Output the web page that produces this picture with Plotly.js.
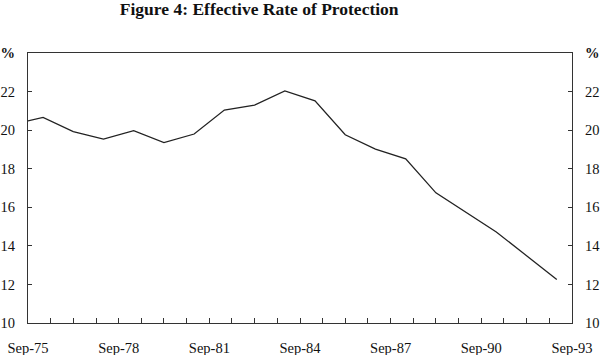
<!DOCTYPE html>
<html>
<head>
<meta charset="utf-8">
<script src="https://cdn.plot.ly/plotly-3.0.1.min.js"></script>
<style>html,body{margin:0;padding:0;background:#fff;}#chart{width:600px;height:355px;}</style>
</head>
<body>
<div id="chart"></div>
<script>
// Observation dates (March of each year) and effective rate of protection (%)
var dates = ["1975-03-01","1976-03-01","1977-03-01","1978-03-01","1979-03-01","1980-03-01",
             "1981-03-01","1982-03-01","1983-03-01","1984-03-01","1985-03-01","1986-03-01",
             "1987-03-01","1988-03-01","1989-03-01","1990-03-01","1991-03-01","1992-03-01",
             "1993-03-01"];
var rates = [20.3, 20.66, 19.92, 19.54, 19.97, 19.35, 19.8, 21.04, 21.3, 22.03, 21.52, 19.76,
             19.02, 18.51, 16.75, 15.75, 14.72, 13.49, 12.26];
var yTickVals = [10, 12, 14, 16, 18, 20, 22, 24];
var yTickText = ["10", "12", "14", "16", "18", "20", "22", "<b>%</b>"];
var xRange = ["1975-09-01", "1993-09-01"];

var serif = "Liberation Serif, Times New Roman, serif";
var axisColor = "#333";

var yCommon = {
  range: [10, 24],
  tickmode: "array",
  tickvals: yTickVals,
  ticktext: yTickText,
  ticks: "inside",
  ticklen: 4,
  tickcolor: axisColor,
  showline: true,
  linecolor: axisColor,
  linewidth: 1,
  showgrid: false,
  zeroline: false,
  ticklabelstandoff: 9,
  tickfont: {family: serif, size: 14.5, color: "#111"},
  fixedrange: true
};

var layout = {
  width: 600, height: 355,
  margin: {l: 28, r: 28, t: 53, b: 32},
  paper_bgcolor: "#fff", plot_bgcolor: "#fff",
  showlegend: false,
  title: {
    text: "<b>Figure 4: Effective Rate of Protection</b>",
    font: {family: serif, size: 17.5, color: "#111"},
    xref: "container", x: 0.432, xanchor: "center",
    yref: "container", y: 0.975, yanchor: "middle"
  },
  xaxis: {
    type: "date",
    range: xRange,
    tick0: "1975-09-01",
    dtick: "M36",
    tickformat: "%b-%y",
    ticks: "inside",
    ticklen: 5,
    tickcolor: axisColor,
    minor: {dtick: "M9", tick0: "1975-09-01", ticks: "inside", ticklen: 5, tickcolor: axisColor, showgrid: false},
    showline: true,
    linecolor: axisColor,
    linewidth: 1,
    mirror: true,
    showgrid: false,
    zeroline: false,
    ticklabelstandoff: 12,
    tickfont: {family: serif, size: 14.5, color: "#111"},
    fixedrange: true
  },
  yaxis: Object.assign({}, yCommon, {side: "left"}),
  yaxis2: Object.assign({}, yCommon, {side: "right", overlaying: "y"})
};

var traces = [
  {x: dates, y: rates, type: "scatter", mode: "lines", line: {color: "#222", width: 1.3}, hoverinfo: "x+y"},
  {x: dates, y: rates, type: "scatter", mode: "lines", yaxis: "y2", line: {color: "rgba(0,0,0,0)", width: 0}, hoverinfo: "skip"}
];

Plotly.newPlot("chart", traces, layout, {displayModeBar: false, staticPlot: true});
</script>
</body>
</html>
